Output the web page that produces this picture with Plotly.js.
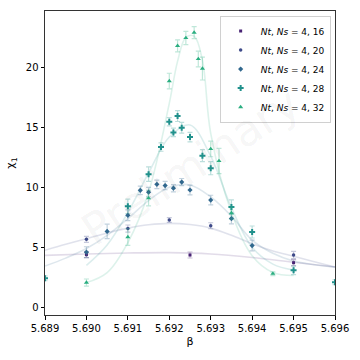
<!DOCTYPE html>
<html>
<head>
<meta charset="utf-8">
<script src="https://cdn.plot.ly/plotly-3.0.1.min.js"></script>
<style>
  html, body { margin: 0; padding: 0; background: #fff; }
  #myDiv { width: 360px; height: 360px; }
</style>
</head>
<body>
<div id="myDiv"></div>
<script>
// datos por volumen (Nt, Ns)
var nombres = ['<i>Nt</i>, <i>Ns</i> = 4, 16', '<i>Nt</i>, <i>Ns</i> = 4, 20', '<i>Nt</i>, <i>Ns</i> = 4, 24',
               '<i>Nt</i>, <i>Ns</i> = 4, 28', '<i>Nt</i>, <i>Ns</i> = 4, 32'];
var colores = ['#482374', '#3e4a89', '#31688e', '#21918c', '#2aae80'];
var simbolos = ['square', 'circle', 'diamond', 'cross', 'triangle-up'];
var tamanos = [3, 3.5, 4, 5, 4.5];

var beta16 = [5.690, 5.6925, 5.695];
var chi16 = [4.39, 4.36, 3.72];
var err16 = [0.25, 0.25, 0.25];

var beta20 = [5.690, 5.691, 5.692, 5.693, 5.695];
var chi20 = [5.67, 6.56, 7.28, 6.80, 4.36];
var err20 = [0.25, 0.3, 0.2, 0.25, 0.3];

var beta24 = [5.690, 5.6905, 5.691, 5.6913, 5.6915, 5.6917, 5.6919, 5.6921, 5.6923, 5.6925, 5.693, 5.6935, 5.694];
var chi24 = [4.60, 6.33, 7.67, 9.75, 9.60, 10.25, 10.15, 9.93, 10.44, 9.78, 8.94, 7.40, 5.15];
var err24 = [0.45, 0.6, 0.45, 0.35, 0.4, 0.35, 0.35, 0.3, 0.3, 0.4, 0.4, 0.45, 0.45];

var beta28 = [5.689, 5.691, 5.6915, 5.6918, 5.692, 5.6921, 5.6922, 5.6923, 5.6925, 5.6928, 5.693, 5.6935, 5.694, 5.695, 5.696];
var chi28 = [2.42, 8.42, 11.10, 13.36, 15.47, 14.58, 15.94, 14.97, 14.19, 12.64, 11.60, 8.36, 6.28, 3.08, 2.10];
var err28 = [0.2, 0.6, 0.6, 0.35, 0.35, 0.35, 0.45, 0.45, 0.4, 0.5, 0.55, 0.6, 0.5, 0.35, 0.2];

var beta32 = [5.690, 5.691, 5.6915, 5.692, 5.6922, 5.6924, 5.6926, 5.6927, 5.6928, 5.693, 5.6932, 5.6935, 5.6945];
var chi32 = [2.06, 5.86, 9.10, 18.86, 21.80, 22.45, 22.90, 20.70, 19.90, 13.20, 12.20, 7.86, 2.80];
var err32 = [0.3, 0.7, 0.65, 0.65, 0.5, 0.55, 0.5, 0.65, 0.95, 0.65, 1.05, 0.5, 0.15];

// curvas de ajuste
var fitBeta16 = [5.689, 5.690, 5.691, 5.692, 5.693, 5.694, 5.695, 5.696];
var fitChi16 = [4.33, 4.45, 4.53, 4.56, 4.45, 4.15, 3.75, 3.36];

var fitBeta20 = [5.689, 5.6895, 5.690, 5.6905, 5.691, 5.6915, 5.692, 5.6925, 5.693, 5.6935, 5.694, 5.6945, 5.695, 5.6955, 5.696];
var fitChi20 = [4.75, 5.25, 5.72, 6.2, 6.6, 6.88, 7.0, 6.9, 6.6, 6.0, 5.3, 4.7, 4.25, 3.8, 3.36];

var fitBeta24 = [5.689, 5.6895, 5.690, 5.6905, 5.691, 5.6915, 5.692, 5.6925, 5.693, 5.6935, 5.694, 5.6945, 5.695, 5.6955, 5.696];
var fitChi24 = [3.44, 4.1, 4.9, 6.0, 7.4, 8.9, 10.0, 10.2, 9.2, 7.6, 5.6, 4.5, 3.85, 3.55, 3.36];

var fitBeta28 = [5.690, 5.6905, 5.691, 5.6915, 5.692, 5.6925, 5.693, 5.6935, 5.694, 5.6945, 5.695];
var fitChi28 = [3.5, 5.2, 7.9, 11.2, 14.2, 15.2, 12.6, 8.3, 5.0, 3.6, 3.1];

var fitBeta32 = [5.690, 5.6905, 5.691, 5.6915, 5.692, 5.6922, 5.6924, 5.6926, 5.6928, 5.693, 5.6935, 5.694, 5.6945, 5.695];
var fitChi32 = [2.06, 2.9, 5.4, 9.6, 17.0, 20.5, 22.5, 22.6, 20.6, 14.5, 7.9, 4.3, 2.9, 2.65];

var xs = [beta16, beta20, beta24, beta28, beta32];
var ys = [chi16, chi20, chi24, chi28, chi32];
var errs = [err16, err20, err24, err28, err32];
var fitXs = [fitBeta16, fitBeta20, fitBeta24, fitBeta28, fitBeta32];
var fitYs = [fitChi16, fitChi20, fitChi24, fitChi28, fitChi32];

function rgba(hex, a) {
  var n = parseInt(hex.slice(1), 16);
  return 'rgba(' + ((n >> 16) & 255) + ',' + ((n >> 8) & 255) + ',' + (n & 255) + ',' + a + ')';
}

var data = [];
// primero las curvas (quedan detras)
for (var i = 0; i < 5; i++) {
  data.push({
    x: fitXs[i],
    y: fitYs[i],
    type: 'scatter',
    mode: 'lines',
    line: { color: rgba(colores[i], 0.16), width: 1.6, shape: 'spline', smoothing: 1 },
    showlegend: false,
    hoverinfo: 'skip'
  });
}
for (var i = 0; i < 5; i++) {
  data.push({
    x: xs[i],
    y: ys[i],
    type: 'scatter',
    mode: 'markers',
    name: nombres[i],
    marker: { color: colores[i], symbol: simbolos[i], size: tamanos[i] },
    error_y: { type: 'data', array: errs[i], visible: true, color: rgba(colores[i], 0.3), thickness: 1.2, width: 2.5 }
  });
}

var layout = {
  width: 360,
  height: 360,
  margin: { l: 45, r: 25, t: 11, b: 45 },
  paper_bgcolor: '#fff',
  plot_bgcolor: '#fff',
  font: { family: 'DejaVu Sans, sans-serif', size: 10, color: '#000' },
  showlegend: true,
  legend: {
    x: 0.985, y: 0.985, xanchor: 'right', yanchor: 'top',
    bgcolor: 'rgba(255,255,255,0.8)',
    bordercolor: '#d0d0d0',
    borderwidth: 1,
    font: { size: 9 },
    tracegroupgap: 0,
    itemwidth: 30
  },
  xaxis: {
    title: { text: 'β', font: { size: 11 }, standoff: 4 },
    range: [5.689, 5.696],
    tick0: 5.689,
    dtick: 0.001,
    tickformat: '.3f',
    ticks: 'outside',
    ticklen: 3.5,
    tickcolor: '#000',
    showgrid: false,
    zeroline: false,
    showline: true,
    linecolor: '#333',
    linewidth: 1,
    mirror: true
  },
  yaxis: {
    title: { text: 'χ<sub>1</sub>', font: { size: 11 }, standoff: 8 },
    range: [-0.64, 24.7],
    tick0: 0,
    dtick: 5,
    ticks: 'outside',
    ticklen: 3.5,
    tickcolor: '#000',
    showgrid: false,
    zeroline: false,
    showline: true,
    linecolor: '#333',
    linewidth: 1,
    mirror: true
  },
  annotations: [{
    text: 'Preliminary',
    xref: 'paper', yref: 'paper',
    x: 0.5, y: 0.49,
    showarrow: false,
    textangle: -33,
    font: { size: 44, color: 'rgba(0,0,0,0.05)' }
  }]
};

Plotly.newPlot('myDiv', data, layout, { displayModeBar: false, staticPlot: true });
</script>
</body>
</html>
